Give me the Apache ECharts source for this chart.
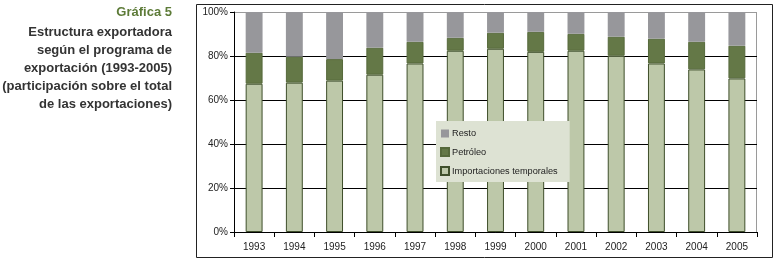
<!DOCTYPE html>
<html>
<head>
<meta charset="utf-8">
<script src="https://cdn.jsdelivr.net/npm/echarts@6/dist/echarts.min.js"></script>
<style>
  html, body { margin: 0; padding: 0; background: #fff; }
  #chart { width: 776px; height: 263px; }
</style>
</head>
<body>
<div id="chart"></div>
<script>
// years on the x axis
const years = ['1993', '1994', '1995', '1996', '1997', '1998', '1999', '2000', '2001', '2002', '2003', '2004', '2005']

// shares of total exports (%)
const temporales = [67.4, 67.9, 68.8, 71.5, 76.6, 82.4, 83.3, 81.9, 82.4, 80.1, 76.6, 73.9, 69.8]
const petroleo = [14.1, 11.8, 9.8, 12.3, 9.9, 5.9, 7.3, 9.1, 7.7, 8.7, 11.3, 12.6, 14.9]
const resto = [18.5, 20.3, 21.4, 16.2, 13.5, 11.7, 9.4, 9.0, 9.9, 11.2, 12.1, 13.5, 15.3]

const yTicks = [0, 20, 40, 60, 80, 100]

const titleLines = [
    'Estructura exportadora',
    'según el programa de',
    'exportación (1993-2005)',
    '(participación sobre el total',
    'de las exportaciones)'
]

const chart = echarts.init(document.getElementById('chart'), null, { renderer: 'canvas' })

const barBorder = '#3f4f2b'

const option = {
    animation: false,
    textStyle: { fontFamily: 'Liberation Sans, Arial, sans-serif' },
    title: {
        text: 'Gráfica 5',
        subtext: titleLines.join('\n'),
        left: 172,
        top: 4,
        textAlign: 'right',
        itemGap: 3,
        padding: 0,
        textStyle: { color: '#5d7b38', fontSize: 13, fontWeight: 'bold', lineHeight: 17 },
        subtextStyle: { color: '#333', fontSize: 13, fontWeight: 'bold', lineHeight: 17.8, align: 'right' }
    },
    graphic: [{
        type: 'rect',
        shape: { x: 196.5, y: 4.5, width: 576, height: 253 },
        style: { fill: 'none', stroke: '#222', lineWidth: 1 },
        silent: true
    }, {
        type: 'rect',
        shape: { x: 234.5, y: 12.5, width: 522, height: 220 },
        style: { fill: 'none', stroke: '#9a9a9a', lineWidth: 1 },
        silent: true,
        z: 0
    }],
    legend: {
        orient: 'vertical',
        left: 436,
        top: 121,
        padding: [8, 12, 6, 4],
        itemGap: 9,
        itemWidth: 8,
        itemHeight: 8,
        icon: 'rect',
        backgroundColor: '#dde2d3',
        textStyle: { fontSize: 9.2, color: '#222', padding: [0, 0, 0, -2] },
        data: ['Resto', 'Petróleo', 'Importaciones temporales']
    },
    grid: { left: 234, right: 19, top: 12, bottom: 31 },
    xAxis: {
        type: 'category',
        data: years,
        axisLine: { lineStyle: { color: '#000', width: 1 } },
        axisTick: { show: true, length: 5, inside: false, lineStyle: { color: '#000' } },
        axisLabel: { fontSize: 10, color: '#222', margin: 10 },
        splitLine: { show: false }
    },
    yAxis: {
        type: 'value',
        min: yTicks[0],
        max: yTicks[yTicks.length - 1],
        interval: 20,
        axisLine: { show: true, lineStyle: { color: '#000', width: 1 } },
        axisTick: { show: true, length: 4, lineStyle: { color: '#000' } },
        axisLabel: { fontSize: 10, color: '#222', margin: 6, formatter: '{value}%' },
        splitLine: { show: true, lineStyle: { color: ['#000', '#000', '#000', '#000', '#000', '#9a9a9a'], width: 1 } }
    },
    series: [{
        name: 'Importaciones temporales',
        type: 'bar',
        stack: 'total',
        barWidth: '42%',
        data: temporales,
        itemStyle: { color: '#bdc8a9', borderColor: barBorder, borderWidth: 1 },
        z: 3
    }, {
        name: 'Petróleo',
        type: 'bar',
        stack: 'total',
        data: petroleo,
        itemStyle: { color: '#647847', borderColor: '#56693b', borderWidth: 1 },
        z: 3
    }, {
        name: 'Resto',
        type: 'bar',
        stack: 'total',
        data: resto,
        itemStyle: { color: '#97979b' },
        z: 3
    }]
}

chart.setOption(option)
</script>
</body>
</html>
